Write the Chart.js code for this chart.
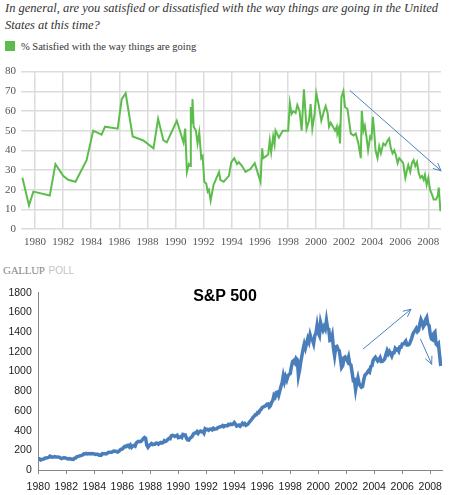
<!DOCTYPE html>
<html>
<head>
<meta charset="utf-8">
<script src="https://cdn.jsdelivr.net/npm/chart.js@4"></script>
<style>
  html, body { margin: 0; padding: 0; background: #fff; }
  body { width: 450px; height: 495px; position: relative; overflow: hidden; }
  .q { position: absolute; left: 5px; top: 0px; font: italic 12.5px "Liberation Serif", serif; color: #333; line-height: 17px; white-space: nowrap; }
  .leg { position: absolute; left: 5px; top: 41px; font: 10.5px "Liberation Serif", serif; color: #333; line-height: 11px; white-space: nowrap; }
  .leg i { display: inline-block; width: 10px; height: 10px; background: #5dbd4c; vertical-align: top; margin-right: 6px; }
  .gallup { position: absolute; left: 3px; top: 263px; white-space: nowrap; line-height: 12px; }
  .gallup b { font: 11px "Liberation Serif", serif; color: #888; letter-spacing: -0.3px; }
  .gallup span { font: 10px "Liberation Sans", sans-serif; color: #c4c4c4; }
  .sp { position: absolute; left: 0; width: 450px; top: 287px; text-align: center; font: bold 16px "Liberation Sans", sans-serif; color: #000; }
  canvas { position: absolute; left: 0; }
  #c1 { top: 60px; }
  #c2 { top: 280px; }
</style>
</head>
<body>
<div class="q">In general, are you satisfied or dissatisfied with the way things are going in the United<br>States at this time?</div>
<div class="leg"><i></i>% Satisfied with the way things are going</div>
<canvas id="c1" width="450" height="195"></canvas>
<div class="gallup"><b>GALLUP</b> <span>POLL</span></div>
<canvas id="c2" width="450" height="215"></canvas>
<div class="sp">S&amp;P 500</div>
<script>
// ---------- Gallup: % satisfied ----------
const gallupYears = [
  1979.1, 1979.57, 1979.88, 1981.05, 1981.45, 1982.0, 1982.36, 1982.88, 1983.67, 1984.14,
  1984.74, 1984.98, 1985.88, 1986.17, 1986.45, 1986.95, 1987.71, 1988.43, 1988.76, 1989.14,
  1989.38, 1990.09, 1990.57, 1990.69, 1990.81, 1990.95, 1991.05, 1991.09, 1991.17, 1991.21,
  1991.29, 1991.45, 1991.57, 1991.69, 1991.83, 1991.93, 1992.05, 1992.19, 1992.29, 1992.38,
  1992.5, 1992.71, 1993.1, 1993.19, 1993.43, 1993.8, 1993.97, 1994.18, 1994.38, 1994.5,
  1994.74, 1994.98, 1995.33, 1995.64, 1996.05, 1996.17, 1996.24, 1996.45, 1996.6, 1996.71,
  1996.81, 1996.95, 1997.05, 1997.12, 1997.36, 1997.64, 1998.02, 1998.14, 1998.26, 1998.38,
  1998.55, 1998.67, 1998.83, 1998.98, 1999.14, 1999.33, 1999.5, 1999.62, 1999.74, 1999.9,
  2000.02, 2000.21, 2000.38, 2000.57, 2000.69, 2000.83, 2000.93, 2001.05, 2001.21, 2001.36,
  2001.48, 2001.52, 2001.62, 2001.71, 2001.81, 2001.95, 2002.07, 2002.24, 2002.48, 2002.67,
  2002.83, 2003.02, 2003.19, 2003.26, 2003.38, 2003.48, 2003.6, 2003.71, 2003.86, 2003.95,
  2004.05, 2004.14, 2004.24, 2004.38, 2004.5, 2004.62, 2004.79, 2004.93, 2005.1, 2005.21,
  2005.33, 2005.45, 2005.57, 2005.69, 2005.81, 2005.93, 2006.05, 2006.21, 2006.36, 2006.48,
  2006.57, 2006.71, 2006.83, 2006.95, 2007.07, 2007.19, 2007.31, 2007.43, 2007.55, 2007.67,
  2007.76, 2007.88, 2008.0, 2008.12, 2008.26, 2008.38, 2008.55, 2008.67, 2008.74, 2008.86
];
const gallupSatisfied = [
  26, 12, 19, 17, 33, 27, 25, 24, 35, 50,
  48, 52, 51, 66, 69, 47, 45, 41, 56, 45,
  44, 55, 44, 51, 29, 33, 32, 62, 53.5, 66,
  52, 50, 43.5, 49, 36, 37, 24, 23, 19, 20,
  14.5, 22.5, 29, 25, 24, 27, 34, 36, 33, 34,
  32, 29, 30.5, 33.5, 24, 41, 36, 37, 38, 45,
  39, 47, 43, 50, 46.5, 50, 50, 64, 58.5, 60,
  59, 63, 60, 50, 71, 51, 55, 63.5, 51, 58.5,
  69, 62.5, 55, 60, 62.5, 59, 52, 54, 52, 50,
  52, 48.5, 51, 43.5, 67, 70, 62, 61, 48.5, 47.5,
  48.5, 43.5, 36, 60, 50, 52.5, 46.5, 40, 47, 46,
  57, 50, 40, 36, 42, 38.5, 43.5, 42.5, 45, 46,
  41, 38.5, 40, 37.5, 33.5, 36, 35, 33.5, 26, 30,
  32.5, 29, 33.5, 35, 32, 34, 28.5, 26, 27, 25,
  27.5, 22.5, 26, 20, 17.5, 15, 15, 17, 21, 9
];
const gallupYearTicks = [1980,1982,1984,1986,1988,1990,1992,1994,1996,1998,2000,2002,2004,2006,2008];
const gallupArrow = [[2002.43, 70.3], [2008.9, 29.6]];

// ---------- S&P 500 monthly closes from Jan 1980 ----------
const spStartYear = 1980;
const spMonthly = [
  114.2,113.7,102.1,106.3,111.2,114.2,121.7,122.4,125.5,127.5,140.5,135.8,
  129.6,131.3,136.0,132.8,133.0,131.2,130.9,122.8,116.2,121.9,126.4,122.6,
  120.4,113.1,112.0,116.4,111.9,109.6,107.1,119.5,120.4,133.7,138.5,140.6,
  145.3,148.1,153.0,164.4,162.4,168.1,162.6,164.4,166.1,163.6,166.4,164.9,
  163.4,157.1,159.2,160.1,150.6,153.2,150.7,166.7,166.1,166.1,163.6,167.2,
  179.6,181.2,180.7,179.8,189.6,191.9,190.9,188.6,182.1,189.8,202.2,211.3,
  211.8,226.9,238.9,235.5,247.4,250.8,236.1,252.9,231.3,244.0,249.2,242.2,
  274.1,284.2,291.7,288.4,290.1,304.0,318.7,329.8,321.8,251.8,230.3,247.1,
  257.1,267.8,258.9,261.3,262.2,273.5,272.0,261.5,271.9,279.0,273.7,277.7,
  297.5,288.9,294.9,309.6,320.5,318.0,346.1,351.5,349.2,340.4,346.0,353.4,
  329.1,331.9,339.9,330.8,361.2,358.0,356.2,322.6,306.1,304.0,322.2,330.2,
  343.9,367.1,375.2,375.3,389.8,371.2,387.8,395.4,387.9,392.5,375.2,417.1,
  408.8,412.7,403.7,415.0,415.4,408.1,424.2,414.0,417.8,418.7,431.4,435.7,
  438.8,443.4,451.7,440.2,450.2,450.5,448.1,463.6,458.9,467.8,461.8,466.5,
  481.6,467.1,445.8,450.9,456.5,444.3,458.3,475.5,462.7,472.4,453.7,459.3,
  470.4,487.4,500.7,514.7,533.4,544.8,562.1,561.9,584.4,581.5,605.4,615.9,
  636.0,640.4,645.5,654.2,669.1,670.6,640.0,652.0,687.3,705.3,757.0,740.7,
  786.2,790.8,757.1,801.3,848.3,885.1,954.3,899.5,947.3,914.6,955.4,970.4,
  980.3,1049.3,1101.8,1111.8,1090.8,1133.8,1120.7,957.3,1017.0,1098.7,1163.6,1229.2,
  1279.6,1238.3,1286.4,1335.2,1301.8,1372.7,1328.7,1320.4,1282.7,1362.9,1388.9,1469.3,
  1394.5,1366.4,1498.6,1452.4,1420.6,1454.6,1430.8,1517.7,1436.5,1429.4,1315.2,1320.3,
  1366.0,1239.9,1160.3,1249.5,1255.8,1224.4,1211.2,1133.6,1040.9,1059.8,1139.5,1148.1,
  1130.2,1106.7,1147.4,1076.9,1067.1,989.8,911.6,916.1,815.3,885.8,936.3,879.8,
  855.7,841.2,848.2,916.9,963.6,974.5,990.3,1008.0,996.0,1050.7,1058.2,1111.9,
  1131.1,1144.9,1126.2,1107.3,1120.7,1140.8,1101.7,1104.2,1114.6,1130.2,1173.8,1211.9,
  1181.3,1203.6,1180.6,1156.9,1191.5,1191.3,1234.2,1220.3,1228.8,1207.0,1249.5,1248.3,
  1280.1,1280.7,1294.8,1310.6,1270.1,1270.2,1276.7,1303.8,1335.9,1377.9,1400.6,1418.3,
  1438.2,1406.8,1420.9,1482.4,1530.6,1503.4,1455.3,1474.0,1526.8,1549.4,1481.1,1468.4,
  1378.6,1330.6,1322.7,1385.6,1400.4,1280.0,1267.4,1282.8,1166.4,1056.0
];
const spYearTicks = [1980,1982,1984,1986,1988,1990,1992,1994,1996,1998,2000,2002,2004,2006,2008];
const spArrows = [
  [[2003.21, 1230], [2006.62, 1633]],
  [[2007.31, 1328], [2008.1, 1075]]
];

// ---------- helpers ----------
function arrow(ctx, x1, y1, x2, y2, head, color) {
  ctx.save();
  ctx.strokeStyle = color; ctx.lineWidth = 1; ctx.lineCap = 'round';
  ctx.beginPath(); ctx.moveTo(x1, y1); ctx.lineTo(x2, y2); ctx.stroke();
  const a = Math.atan2(y2 - y1, x2 - x1);
  ctx.beginPath();
  ctx.moveTo(x2 - head * Math.cos(a - 0.45), y2 - head * Math.sin(a - 0.45));
  ctx.lineTo(x2, y2);
  ctx.lineTo(x2 - head * Math.cos(a + 0.45), y2 - head * Math.sin(a + 0.45));
  ctx.stroke();
  ctx.restore();
}
function arrowPlugin(list) {
  return {
    id: 'arrows',
    afterDatasetsDraw(chart) {
      const xs = chart.scales.x, ys = chart.scales.y, ctx = chart.ctx;
      list.forEach(([p, q]) => arrow(ctx,
        xs.getPixelForValue(p[0]), ys.getPixelForValue(p[1]),
        xs.getPixelForValue(q[0]), ys.getPixelForValue(q[1]), 8, '#4f81bd'));
    }
  };
}

// ---------- Chart 1 ----------
new Chart(document.getElementById('c1'), {
  type: 'line',
  data: {
    datasets: [{
      data: gallupYears.map((y, i) => ({ x: y, y: gallupSatisfied[i] })),
      borderColor: '#5dbd4c', borderWidth: 2, pointRadius: 0, tension: 0, fill: false
    }]
  },
  options: {
    responsive: false, animation: false, devicePixelRatio: 1,
    layout: { padding: { left: 0, right: 9, top: 9, bottom: 0 } },
    plugins: { legend: { display: false }, tooltip: { enabled: false } },
    scales: {
      x: {
        type: 'linear', min: 1979, max: 2008.9,
        afterBuildTicks: s => { s.ticks = gallupYearTicks.map(v => ({ value: v })); },
        afterFit: s => { s.height = 26; },
        grid: { color: '#dcdcdc', lineWidth: 1.5, drawTicks: false },
        border: { display: false },
        ticks: { padding: 7, color: '#555', font: { family: 'Liberation Serif', size: 11 }, maxRotation: 0, autoSkip: false, callback: v => String(v) }
      },
      y: {
        min: 0, max: 80,
        afterFit: s => { s.width = 21; },
        grid: { color: '#dcdcdc', lineWidth: 1.5, drawTicks: false },
        border: { display: false },
        ticks: { stepSize: 10, padding: 5, color: '#555', font: { family: 'Liberation Serif', size: 11 }, callback: v => String(v) }
      }
    }
  },
  plugins: [arrowPlugin([gallupArrow])]
});

// ---------- Chart 2 ----------
new Chart(document.getElementById('c2'), {
  type: 'line',
  data: {
    datasets: [{
      data: spMonthly.map((v, i) => ({ x: spStartYear + i / 12, y: v })),
      borderColor: '#4a7ebb', borderWidth: 3.5, pointRadius: 0, tension: 0, fill: false
    }]
  },
  options: {
    responsive: false, animation: false, devicePixelRatio: 1,
    layout: { padding: { left: 0, right: 7.7, top: 7.3, bottom: 0 } },
    plugins: { legend: { display: false }, tooltip: { enabled: false } },
    scales: {
      x: {
        type: 'linear', min: 1980, max: 2008.86,
        afterBuildTicks: s => { s.ticks = spYearTicks.map(v => ({ value: v })); },
        afterFit: s => { s.height = 25; },
        grid: { drawOnChartArea: false, drawTicks: true, tickLength: 4, color: '#868686' },
        border: { display: true, color: '#868686', width: 1 },
        ticks: { padding: 7, color: '#222', font: { family: 'Liberation Sans', size: 10.5 }, maxRotation: 0, autoSkip: false, callback: v => String(v) }
      },
      y: {
        min: 0, max: 1800,
        afterFit: s => { s.width = 38.3; },
        grid: { drawOnChartArea: false, drawTicks: false },
        border: { display: true, color: '#868686', width: 1 },
        ticks: { stepSize: 200, padding: 6.5, color: '#222', font: { family: 'Liberation Sans', size: 10.5 }, callback: v => String(v) }
      }
    }
  },
  plugins: [arrowPlugin(spArrows)]
});
</script>
</body>
</html>
